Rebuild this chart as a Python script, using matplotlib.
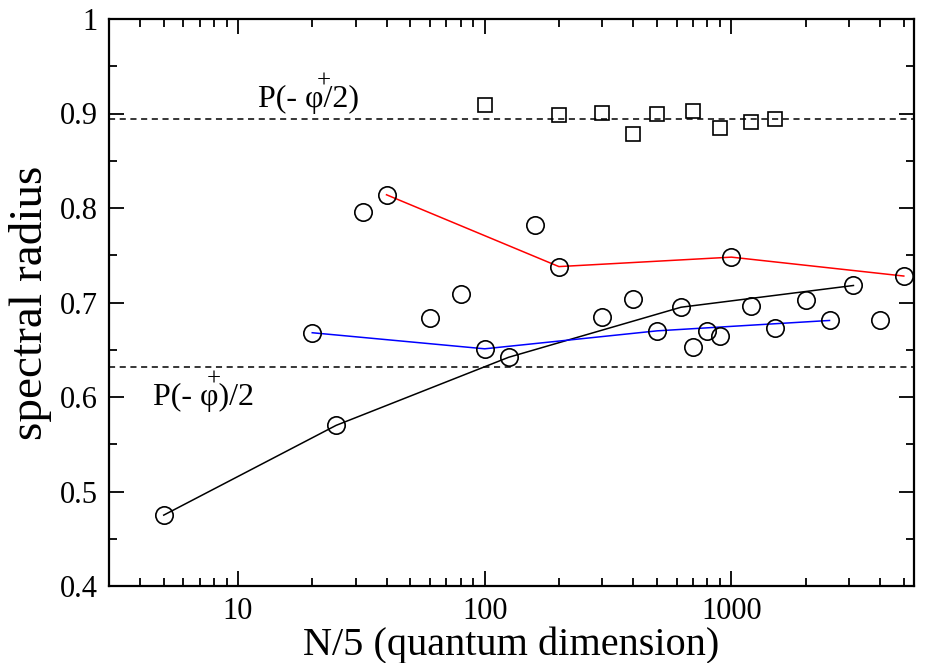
import matplotlib
matplotlib.use("Agg")
import matplotlib.pyplot as plt
from matplotlib.ticker import LogLocator, FixedLocator, NullFormatter

# ---- data ----
black_x = [5, 25, 125, 625, 3125]
black_y = [0.475, 0.570, 0.642, 0.695, 0.718]
blue_x = [20, 100, 500, 2500]
blue_y = [0.668, 0.651, 0.670, 0.681]
red_x = [40, 200, 1000, 5000]
red_y = [0.814, 0.738, 0.748, 0.728]
other_x = [32, 60, 80, 160, 300, 400, 700, 800, 900, 1200, 1500, 2000, 4000]
other_y = [0.796, 0.684, 0.709, 0.782, 0.685, 0.704, 0.653, 0.670, 0.665, 0.696, 0.673, 0.703, 0.681]
sq_x = [100, 200, 300, 400, 500, 700, 900, 1200, 1500]
sq_y = [0.909, 0.898, 0.901, 0.878, 0.899, 0.903, 0.885, 0.891, 0.894]
hline_upper = 0.894
hline_lower = 0.632
x_ticks = [10, 100, 1000]
x_ticklabels = ["10", "100", "1000"]
y_ticks = [0.4, 0.5, 0.6, 0.7, 0.8, 0.9, 1.0]
y_ticklabels = ["0.4", "0.5", "0.6", "0.7", "0.8", "0.9", "1"]
label_upper = "P(- \u03c6/2)"
label_lower = "P(- \u03c6)/2"

plt.rcParams['font.family'] = ['Liberation Serif', 'DejaVu Serif']

fig = plt.figure(figsize=(9.26, 6.63), dpi=100)
ax = fig.add_axes([109/926, 1 - 586/663, (914-109)/926, (586-19)/663])

ax.set_xscale('log')
ax.set_xlim(3, 5500)
ax.set_ylim(0.4, 1.0)

ax.axhline(hline_upper, color='black', lw=1.1, ls=(0, (4, 3)), zorder=1)
ax.axhline(hline_lower, color='black', lw=1.1, ls=(0, (4, 3)), zorder=1)

ax.plot(black_x, black_y, color='black', lw=1.1, zorder=2)
ax.plot(blue_x, blue_y, color='blue', lw=1.1, zorder=2)
ax.plot(red_x, red_y, color='red', lw=1.1, zorder=2)

circ = dict(marker='o', ms=12.5, mfc='none', mec='black', mew=1.2, ls='none', zorder=3)
for xs, ys in [(black_x, black_y), (blue_x, blue_y), (red_x, red_y), (other_x, other_y)]:
    ax.plot(xs, ys, **circ)
ax.plot(sq_x, sq_y, marker='s', ms=10.5, mfc='none', mec='black', mew=1.2, ls='none', zorder=3)

# labels for dashed lines
ax.text(12.08, 0.907, label_upper, fontsize=23, va='baseline', ha='left')
ax.text(22.3, 0.9337, "+", fontsize=18, va='center', ha='center')
ax.text(4.52, 0.5915, label_lower, fontsize=23, va='baseline', ha='left')
ax.text(8.0, 0.619, "+", fontsize=18, va='center', ha='center')

# ticks
ax.xaxis.set_major_locator(FixedLocator(x_ticks))
ax.set_xticklabels(x_ticklabels)
ax.xaxis.set_minor_locator(LogLocator(base=10, subs=range(2, 10), numticks=20))
ax.xaxis.set_minor_formatter(NullFormatter())
ax.yaxis.set_major_locator(FixedLocator(y_ticks))
ax.set_yticklabels(y_ticklabels)
ax.yaxis.set_minor_locator(FixedLocator([0.45, 0.55, 0.65, 0.75, 0.85, 0.95]))

ax.tick_params(which='both', direction='in', top=True, right=True, width=1.3, labelsize=22)
ax.tick_params(which='major', length=11, pad=8)
ax.tick_params(which='minor', length=5.5)
for s in ax.spines.values():
    s.set_linewidth(1.6)

ax.set_xlabel("N/5 (quantum dimension)", fontsize=29, labelpad=0)
ax.set_ylabel("spectral radius", fontsize=34, labelpad=6)

fig.savefig("out.png", dpi=100)
